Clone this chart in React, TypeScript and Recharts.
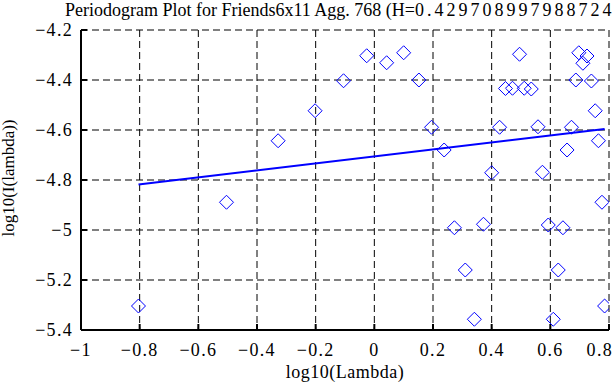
import React from 'react';
import { ScatterChart, Scatter, XAxis, YAxis, CartesianGrid } from 'recharts';

const pointX = [-0.804, -0.504, -0.328, -0.202, -0.105, -0.026, 0.042, 0.1, 0.152, 0.195, 0.238, 0.273, 0.31, 0.341, 0.372, 0.4, 0.427, 0.447, 0.471, 0.495, 0.511, 0.535, 0.558, 0.573, 0.593, 0.61, 0.627, 0.643, 0.657, 0.672, 0.687, 0.697, 0.711, 0.725, 0.74, 0.753, 0.764, 0.776, 0.785];
const pointY = [-5.304, -4.889, -4.643, -4.523, -4.403, -4.303, -4.331, -4.291, -4.4, -4.589, -4.68, -4.991, -5.16, -5.357, -4.977, -4.771, -4.589, -4.434, -4.433, -4.297, -4.433, -4.436, -4.587, -4.769, -4.98, -5.357, -5.16, -4.991, -4.68, -4.589, -4.4, -4.291, -4.333, -4.304, -4.404, -4.523, -4.643, -4.889, -5.304];
const fitX = [-0.804, 0.785];
const fitY = [-4.818, -4.596];
const xTicks = [-1, -0.8, -0.6, -0.4, -0.2, 0, 0.2, 0.4, 0.6, 0.8];
const yTicks = [-5.4, -5.2, -5, -4.8, -4.6, -4.4, -4.2];

const points = pointX.map((x, i) => ({ x, y: pointY[i] }));
const fit = fitX.map((x, i) => ({ x, y: fitY[i] }));

const FONT = '"Liberation Serif", "Times New Roman", serif';
const fmt = (v: number) => (v < 0 ? '\u2212' + String(Math.abs(v)) : String(v));

const Diamond = (props: any) => {
  const { cx, cy } = props;
  if (cx == null || cy == null) return <g />;
  const r = 7;
  return (
    <path
      d={`M${cx},${cy - r}L${cx + r},${cy}L${cx},${cy + r}L${cx - r},${cy}Z`}
      fill="none"
      stroke="#0000ff"
      strokeWidth={1}
    />
  );
};

const Nothing = () => <g />;

export default function App() {
  const tickStyle = { fontFamily: FONT, fontSize: 18, fill: '#000', letterSpacing: 1.3 };
  return (
    <div style={{ position: 'absolute', left: 0, top: 0, width: 613, height: 385, background: '#fff', overflow: 'hidden' }}>
      <ScatterChart width={613} height={385} margin={{ top: 30, right: 4, bottom: 20, left: 21 }}>
        <CartesianGrid stroke="#000" strokeDasharray="7 4" strokeWidth={1} />
        <XAxis
          type="number"
          dataKey="x"
          domain={[-1, 0.8]}
          ticks={xTicks}
          allowDataOverflow
          height={35}
          tickFormatter={fmt}
          tick={tickStyle}
          tickSize={-6}
          tickMargin={19}
          axisLine={{ stroke: '#000', strokeWidth: 2 }}
          tickLine={{ stroke: '#000', strokeWidth: 2 }}
        />
        <XAxis
          xAxisId="top"
          orientation="top"
          type="number"
          dataKey="x"
          domain={[-1, 0.8]}
          ticks={xTicks}
          allowDataOverflow
          height={0}
          tickFormatter={() => ''}
          tickSize={-6}
          axisLine={{ stroke: '#000', strokeWidth: 2 }}
          tickLine={{ stroke: '#000', strokeWidth: 2 }}
        />
        <YAxis
          type="number"
          dataKey="y"
          domain={[-5.4, -4.2]}
          ticks={yTicks}
          allowDataOverflow
          width={60}
          tickFormatter={fmt}
          tick={tickStyle}
          tickSize={-6}
          tickMargin={14}
          axisLine={{ stroke: '#000', strokeWidth: 2 }}
          tickLine={{ stroke: '#000', strokeWidth: 2 }}
        />
        <YAxis
          yAxisId="right"
          orientation="right"
          type="number"
          dataKey="y"
          domain={[-5.4, -4.2]}
          ticks={yTicks}
          allowDataOverflow
          width={0}
          tickFormatter={() => ''}
          tickSize={-6}
          axisLine={{ stroke: '#000', strokeWidth: 2 }}
          tickLine={{ stroke: '#000', strokeWidth: 2 }}
        />
        <Scatter data={points} shape={<Diamond />} isAnimationActive={false} />
        <Scatter
          data={fit}
          line={{ stroke: '#0000ff', strokeWidth: 2 }}
          shape={<Nothing />}
          isAnimationActive={false}
        />
      </ScatterChart>
      <svg
        width={613}
        height={385}
        style={{ position: 'absolute', left: 0, top: 0, pointerEvents: 'none' }}
      >
        <text x={65} y={16} fontFamily={FONT} fontSize={18} fill="#000">
          <tspan>Periodogram Plot for Friends6x11 Agg. 768 (H=</tspan>
          <tspan letterSpacing={3}>0.4297089979887245)</tspan>
        </text>
        <text x={345} y={378} fontFamily={FONT} fontSize={18} fill="#000" textAnchor="middle" letterSpacing={0.5}>
          log10(Lambda)
        </text>
        <text
          x={0}
          y={0}
          transform="translate(14,178) rotate(-90)"
          fontFamily={FONT}
          fontSize={17}
          fill="#000"
          textAnchor="middle"
        >
          log10(I(lambda))
        </text>
      </svg>
    </div>
  );
}
